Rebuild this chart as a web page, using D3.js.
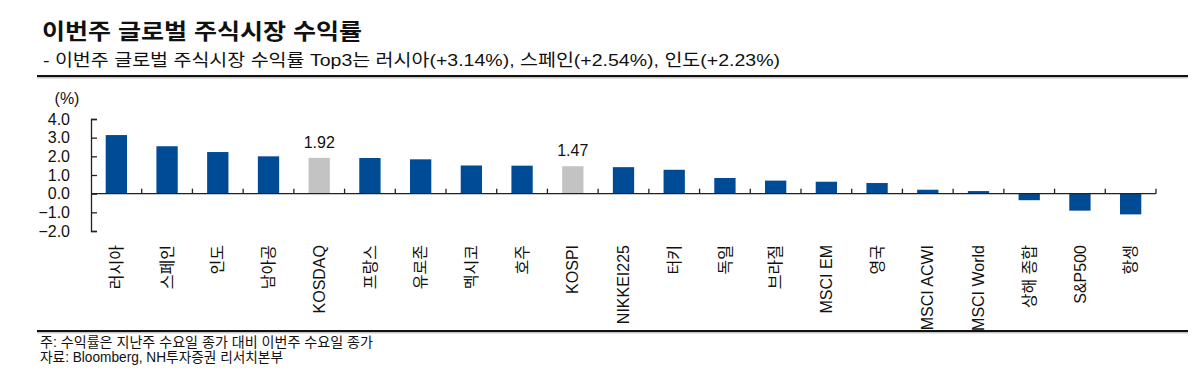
<!DOCTYPE html>
<html>
<head>
<meta charset="utf-8">
<script src="https://cdn.jsdelivr.net/npm/d3@7"></script>
<style>
  body { margin: 0; background: #fff; }
  text { font-family: "Liberation Sans", Arial, "Noto Sans CJK KR", sans-serif; fill: #111; }
</style>
</head>
<body>
<div class="chart"></div>
<script>
var svgWidth = 1199;
var svgHeight = 375;

// data
var markets = ["러시아", "스페인", "인도", "남아공", "KOSDAQ", "프랑스", "유로존", "멕시코", "호주", "KOSPI",
  "NIKKEI225", "터키", "독일", "브라질", "MSCI EM", "영국", "MSCI ACWI", "MSCI World", "상해 종합", "S&P500", "항셍"];
var returns = [3.14, 2.54, 2.23, 2.00, 1.92, 1.91, 1.84, 1.51, 1.50, 1.47,
  1.42, 1.28, 0.84, 0.70, 0.64, 0.57, 0.21, 0.14, -0.35, -0.91, -1.11];
var highlighted = ["KOSDAQ", "KOSPI"];
var yTicks = [-2, -1, 0, 1, 2, 3, 4];

var title = "이번주 글로벌 주식시장 수익률";
var subtitle = "- 이번주 글로벌 주식시장 수익률 Top3는 러시아(+3.14%), 스페인(+2.54%), 인도(+2.23%)";
var note = "주: 수익률은 지난주 수요일 종가 대비 이번주 수요일 종가";
var source = "자료: Bloomberg, NH투자증권 리서치본부";

var hdata = markets.map(function(m, i) { return { name: m, value: returns[i] }; });

var svg = d3.select(".chart")
  .append("svg")
  .attr("width", svgWidth)
  .attr("height", svgHeight);

// header
svg.append("text")
  .attr("x", 42)
  .attr("y", 39)
  .attr("font-size", "22px")
  .attr("font-weight", "bold")
  .attr("textLength", 320)
  .attr("lengthAdjust", "spacingAndGlyphs")
  .text(title);

svg.append("text")
  .attr("x", 43)
  .attr("y", 66)
  .attr("font-size", "17px")
  .attr("textLength", 737)
  .attr("lengthAdjust", "spacingAndGlyphs")
  .text(subtitle);

// double rules top and bottom
[76, 331].forEach(function(y) {
  svg.append("line")
    .attr("x1", 37).attr("x2", 1188)
    .attr("y1", y).attr("y2", y)
    .attr("stroke", "#111")
    .attr("stroke-width", 2);
  svg.append("line")
    .attr("x1", 37).attr("x2", 1188)
    .attr("y1", y + 1.8).attr("y2", y + 1.8)
    .attr("stroke", "#aaa")
    .attr("stroke-width", 1);
});

// scales
var xBandScale = d3.scaleBand()
  .domain(markets)
  .range([91, 1156])
  .paddingInner(0.58)
  .paddingOuter(0.29);

var yLinearScale = d3.scaleLinear()
  .domain([-2, 4])
  .range([231, 119]);

// y axis, ticks pointing inward
var leftAxis = d3.axisRight(yLinearScale)
  .tickValues(yTicks)
  .tickSize(6)
  .tickFormat(d3.format(".1f"));

var yAxis = svg.append("g")
  .attr("transform", "translate(91, 0)")
  .call(leftAxis);
yAxis.select(".domain").attr("stroke", "#222").attr("stroke-width", 1.3);
yAxis.selectAll(".tick line").attr("stroke", "#222").attr("stroke-width", 1.3);
yAxis.selectAll(".tick text")
  .attr("x", -21)
  .attr("text-anchor", "end")
  .attr("font-size", "16px")
  .attr("font-family", "Liberation Sans, Arial, sans-serif")
  .attr("fill", "#111");

svg.append("text")
  .attr("x", 67)
  .attr("y", 104)
  .attr("text-anchor", "middle")
  .attr("font-size", "16px")
  .text("(%)");

// bars
svg.selectAll("rect.bar")
  .data(hdata)
  .enter()
  .append("rect")
  .attr("class", "bar")
  .attr("x", d => xBandScale(d.name))
  .attr("width", xBandScale.bandwidth())
  .attr("y", d => yLinearScale(Math.max(0, d.value)))
  .attr("height", d => Math.abs(yLinearScale(d.value) - yLinearScale(0)))
  .attr("fill", d => highlighted.indexOf(d.name) >= 0 ? "#c3c3c3" : "#004b96");

// zero line with category ticks pointing up
var step = xBandScale.step();
var boundaries = d3.range(1, markets.length + 1).map(i => 91 + i * step);

svg.append("line")
  .attr("x1", 91).attr("x2", 1156)
  .attr("y1", yLinearScale(0)).attr("y2", yLinearScale(0))
  .attr("stroke", "#222")
  .attr("stroke-width", 1.3);

svg.selectAll("line.xtick")
  .data(boundaries)
  .enter()
  .append("line")
  .attr("class", "xtick")
  .attr("x1", d => d).attr("x2", d => d)
  .attr("y1", yLinearScale(0)).attr("y2", yLinearScale(0) - 5)
  .attr("stroke", "#222")
  .attr("stroke-width", 1.3);

// value labels on the highlighted bars
svg.selectAll("text.value")
  .data(hdata.filter(d => highlighted.indexOf(d.name) >= 0))
  .enter()
  .append("text")
  .attr("class", "value")
  .attr("x", d => xBandScale(d.name) + xBandScale.bandwidth() / 2)
  .attr("y", d => yLinearScale(d.value) - 10)
  .attr("text-anchor", "middle")
  .attr("font-size", "16px")
  .text(d => d.value.toFixed(2));

// rotated category labels
svg.selectAll("text.cat")
  .data(markets)
  .enter()
  .append("text")
  .attr("class", "cat")
  .attr("transform", d => `translate(${xBandScale(d) + xBandScale.bandwidth() / 2}, 245) rotate(-90)`)
  .attr("dy", "0.35em")
  .attr("text-anchor", "end")
  .attr("font-size", "16px")
  .text(d => d);

// footnotes
svg.append("text")
  .attr("x", 40)
  .attr("y", 347)
  .attr("font-size", "14px")
  .attr("textLength", 333)
  .attr("lengthAdjust", "spacingAndGlyphs")
  .text(note);

svg.append("text")
  .attr("x", 40)
  .attr("y", 362)
  .attr("font-size", "14px")
  .attr("textLength", 243)
  .attr("lengthAdjust", "spacingAndGlyphs")
  .text(source);
</script>
</body>
</html>
